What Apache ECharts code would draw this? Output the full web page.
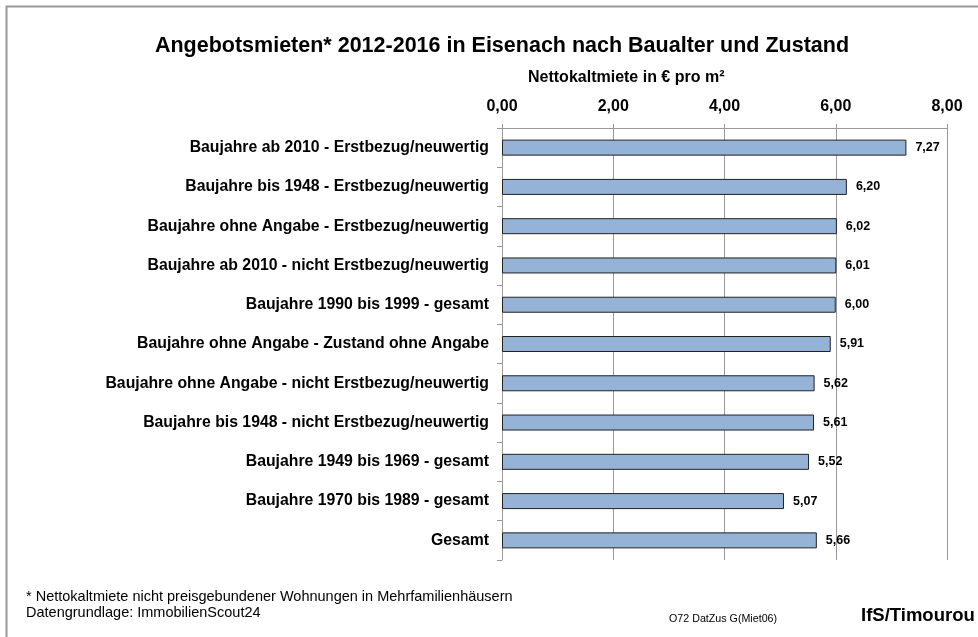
<!DOCTYPE html>
<html>
<head>
<meta charset="utf-8">
<script src="https://cdn.jsdelivr.net/npm/echarts@6/dist/echarts.min.js"></script>
<style>
  html, body { margin: 0; padding: 0; background: #fff; }
  #main { width: 978px; height: 637px; }
</style>
</head>
<body>
<div id="main"></div>
<script>
// Kategorien von oben nach unten
const categories = [
  'Baujahre ab 2010 - Erstbezug/neuwertig',
  'Baujahre bis 1948 - Erstbezug/neuwertig',
  'Baujahre ohne Angabe - Erstbezug/neuwertig',
  'Baujahre ab 2010 - nicht Erstbezug/neuwertig',
  'Baujahre 1990 bis 1999 - gesamt',
  'Baujahre ohne Angabe - Zustand ohne Angabe',
  'Baujahre ohne Angabe - nicht Erstbezug/neuwertig',
  'Baujahre bis 1948 - nicht Erstbezug/neuwertig',
  'Baujahre 1949 bis 1969 - gesamt',
  'Baujahre 1970 bis 1989 - gesamt',
  'Gesamt'
]
const values = [7.27, 6.20, 6.02, 6.01, 6.00, 5.91, 5.62, 5.61, 5.52, 5.07, 5.66]

const fmt = v => v.toFixed(2).replace('.', ',')
const font = 'Liberation Sans, Arial, sans-serif'

const myChart = echarts.init(document.querySelector('#main'))
myChart.setOption({
  animation: false,
  textStyle: { fontFamily: font },
  title: {
    text: 'Angebotsmieten* 2012-2016 in Eisenach nach Baualter und Zustand',
    left: 497,
    textAlign: 'center',
    top: 30,
    textStyle: { fontSize: 21.5, fontWeight: 'bold', color: '#000', fontFamily: font }
  },
  grid: { left: 502, right: 31, top: 128, bottom: 77, containLabel: false },
  xAxis: {
    type: 'value',
    position: 'top',
    min: 0,
    max: 8,
    interval: 2,
    axisLine: { show: true, lineStyle: { color: '#999' } },
    axisTick: { show: true, length: 4, lineStyle: { color: '#999' } },
    splitLine: { show: true, lineStyle: { color: '#999', width: 1 } },
    axisLabel: {
      margin: 13,
      fontSize: 16,
      fontWeight: 'bold',
      color: '#000',
      formatter: v => fmt(v)
    }
  },
  yAxis: {
    type: 'category',
    inverse: true,
    data: categories,
    axisLine: { show: true, lineStyle: { color: '#999' } },
    axisTick: { show: true, length: 5, lineStyle: { color: '#999' } },
    axisLabel: { margin: 13, fontSize: 15.8, fontWeight: 'bold', color: '#000' }
  },
  series: [
    {
      type: 'bar',
      data: values,
      barWidth: 16,
      itemStyle: { color: '#95B3D7', borderColor: '#222', borderWidth: 1 },
      label: {
        show: true,
        position: 'right',
        distance: 9,
        fontSize: 12.5,
        fontWeight: 'bold',
        color: '#000',
        formatter: p => fmt(p.value)
      }
    }
  ],
  graphic: [
    // Rahmen
    { type: 'polyline', shape: { points: [[6.5, 640], [6.5, 6.5], [980, 6.5]] },
      style: { stroke: '#999', lineWidth: 2, fill: null } },
    { type: 'text', left: 528, top: 70,
      style: { text: 'Nettokaltmiete in € pro m²', font: 'bold 16px ' + font, fill: '#000' } },
    { type: 'text', left: 26, top: 589,
      style: { text: '* Nettokaltmiete nicht preisgebundener Wohnungen in Mehrfamilienhäusern', font: '14.5px ' + font, fill: '#000' } },
    { type: 'text', left: 26, top: 605,
      style: { text: 'Datengrundlage: ImmobilienScout24', font: '14.5px ' + font, fill: '#000' } },
    { type: 'text', left: 669, top: 614,
      style: { text: 'O72 DatZus G(Miet06)', font: '10.7px ' + font, fill: '#000' } },
    { type: 'text', left: 861, top: 606,
      style: { text: 'IfS/Timourou', font: 'bold 18.5px ' + font, fill: '#000' } }
  ]
})
</script>
</body>
</html>
